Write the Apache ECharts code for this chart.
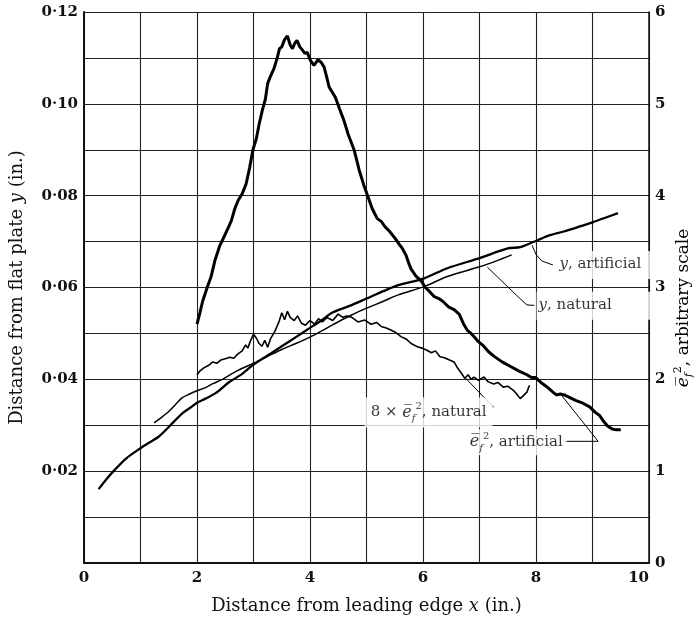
<!DOCTYPE html>
<html>
<head>
<meta charset="utf-8">
<script src="https://cdn.jsdelivr.net/npm/echarts@6/dist/echarts.min.js"></script>
<style>html,body{margin:0;padding:0;background:#fff}#c{width:700px;height:623px}</style>
</head>
<body>
<div id="c"></div>
<script>
// ---- data (x in inches; y in inches on left axis; e_f^2 on right arbitrary scale) ----
const xTickLabels = ['0','','2','','4','','6','','8','','10'];
const yLeftTickLabels = ['','','0·02','','0·04','','0·06','','0·08','','0·10','','0·12'];
const yRightTickLabels = ['0','','1','','2','','3','','4','','5','','6'];

const efArtificial = [
 [2.0,2.6],[2.05,2.72],[2.1,2.85],[2.18,3.0],[2.25,3.12],[2.32,3.3],[2.4,3.45],[2.5,3.58],[2.56,3.66],[2.61,3.73],
 [2.67,3.86],[2.73,3.95],[2.8,4.02],[2.87,4.13],[2.93,4.3],[2.99,4.5],[3.05,4.62],[3.1,4.78],[3.16,4.94],[3.21,5.05],
 [3.25,5.22],[3.3,5.3],[3.36,5.38],[3.42,5.5],[3.46,5.6],[3.5,5.62],[3.55,5.7],[3.6,5.74],[3.65,5.64],[3.69,5.6],
 [3.73,5.66],[3.77,5.69],[3.82,5.62],[3.86,5.59],[3.91,5.55],[3.95,5.56],[4.01,5.47],[4.07,5.42],[4.14,5.48],[4.2,5.45],
 [4.25,5.4],[4.3,5.28],[4.34,5.18],[4.4,5.12],[4.45,5.07],[4.52,4.95],[4.6,4.82],[4.68,4.66],[4.78,4.5],[4.83,4.38],
 [4.87,4.28],[4.95,4.12],[5.02,4.0],[5.1,3.86],[5.19,3.75],[5.26,3.72],[5.33,3.66],[5.41,3.61],[5.5,3.54],[5.58,3.47],
 [5.64,3.42],[5.7,3.35],[5.75,3.26],[5.79,3.2],[5.88,3.12],[5.97,3.07],[6.04,3.0],[6.11,2.96],[6.2,2.9],[6.28,2.88],
 [6.35,2.85],[6.45,2.79],[6.55,2.76],[6.64,2.71],[6.72,2.6],[6.79,2.53],[6.85,2.5],[6.91,2.46],[6.98,2.41],[7.06,2.37],
 [7.16,2.3],[7.26,2.25],[7.4,2.19],[7.55,2.14],[7.7,2.09],[7.84,2.05],[7.92,2.02],[7.99,2.02],[8.1,1.96],[8.19,1.92],
 [8.3,1.86],[8.36,1.83],[8.43,1.84],[8.5,1.83],[8.6,1.8],[8.7,1.77],[8.83,1.74],[8.95,1.7],[9.05,1.64],[9.12,1.61],
 [9.2,1.54],[9.27,1.49],[9.35,1.46],[9.42,1.45],[9.5,1.45]
];

const efNatural8x = [
 [2.0,2.05],[2.05,2.09],[2.12,2.125],[2.2,2.15],[2.28,2.19],[2.35,2.175],[2.42,2.21],[2.5,2.225],[2.58,2.24],[2.65,2.23],
 [2.72,2.275],[2.8,2.31],[2.86,2.375],[2.9,2.34],[2.95,2.425],[3.0,2.49],[3.05,2.45],[3.1,2.39],[3.15,2.36],[3.2,2.425],
 [3.25,2.35],[3.3,2.44],[3.38,2.525],[3.45,2.625],[3.5,2.725],[3.55,2.65],[3.6,2.74],[3.65,2.675],[3.72,2.64],[3.78,2.69],
 [3.85,2.61],[3.92,2.59],[4.0,2.64],[4.08,2.6],[4.15,2.66],[4.22,2.625],[4.3,2.675],[4.4,2.64],[4.5,2.71],[4.58,2.675],
 [4.65,2.69],[4.74,2.675],[4.85,2.625],[4.97,2.645],[5.08,2.6],[5.18,2.62],[5.26,2.575],[5.35,2.56],[5.44,2.535],[5.52,2.51],
 [5.61,2.465],[5.7,2.44],[5.79,2.39],[5.9,2.355],[5.98,2.34],[6.06,2.32],[6.15,2.29],[6.22,2.31],[6.3,2.245],[6.38,2.235],
 [6.47,2.21],[6.55,2.19],[6.6,2.135],[6.67,2.075],[6.74,2.01],[6.8,2.05],[6.85,2.0],[6.9,2.025],[6.98,1.99],[7.08,2.025],
 [7.15,1.975],[7.25,1.95],[7.33,1.965],[7.42,1.915],[7.5,1.925],[7.6,1.88],[7.66,1.84],[7.72,1.79],[7.78,1.825],[7.84,1.86],
 [7.87,1.915],[7.89,1.935]
];

const yArtificial = [
 [0.26,0.0161],[0.4,0.0183],[0.56,0.0205],[0.75,0.0228],[1.0,0.025],[1.15,0.0262],[1.32,0.0275],[1.45,0.029],[1.56,0.0304],
 [1.74,0.0326],[1.88,0.0338],[2.0,0.0349],[2.15,0.0358],[2.33,0.037],[2.56,0.0393],[2.8,0.0412],[3.0,0.0432],[3.25,0.0452],
 [3.5,0.0472],[3.75,0.0492],[4.0,0.0512],[4.2,0.0528],[4.39,0.0545],[4.7,0.056],[5.0,0.0576],[5.3,0.0592],[5.56,0.0605],
 [6.02,0.062],[6.43,0.0642],[7.0,0.0664],[7.5,0.0685],[7.72,0.0688],[7.95,0.0699],[8.2,0.0712],[8.49,0.0722],[8.75,0.0732],
 [9.0,0.0742],[9.25,0.0753],[9.45,0.0762]
];

const yNatural = [
 [1.24,0.0305],[1.35,0.0315],[1.5,0.033],[1.62,0.0345],[1.74,0.036],[1.87,0.0368],[2.0,0.0375],[2.15,0.0382],[2.27,0.039],
 [2.45,0.040],[2.7,0.0418],[3.0,0.0435],[3.25,0.045],[3.5,0.0465],[3.75,0.0478],[4.0,0.0492],[4.2,0.0505],[4.39,0.0518],
 [4.7,0.0538],[5.0,0.0555],[5.3,0.057],[5.56,0.0584],[6.02,0.0602],[6.43,0.0624],[7.0,0.0645],[7.3,0.0658],[7.57,0.0671]
];

// annotation anchors (left-axis units) and leader polylines
const labelYArt = [[8.37,0.0649]];
const labelYNat = [[8.0,0.0560]];
const labelEfNat = [[6.1,0.0328]];
const labelEfArt = [[7.65,0.0263]];
const leaderYArt = [[7.93,0.0692],[8.0,0.0672],[8.1,0.0658],[8.3,0.0649]];
const leaderYNat = [[7.14,0.0644],[7.75,0.0572],[7.84,0.0562],[7.97,0.0561]];
const leaderEfNat = [[6.75,0.0403],[7.25,0.0339]];
const leaderEfArt = [[8.42,0.037],[9.1,0.0265],[8.5,0.0265]];

const serif = 'DejaVu Serif';
const rich = {
  n: {fontFamily: serif, fontSize: 15, color: '#000'},
  i: {fontFamily: serif, fontSize: 15, fontStyle: 'italic', color: '#000'},
  e: {fontFamily: serif, fontSize: 16, fontStyle: 'italic', color: '#000'},
  sb: {fontFamily: serif, fontSize: 10, fontStyle: 'italic', color: '#000', verticalAlign: 'bottom'},
  sp: {fontFamily: serif, fontSize: 10, color: '#000', verticalAlign: 'top'}
};

function labelSeries(data, text, pos, pad) {
  return {
    type: 'scatter', yAxisIndex: 0, data: data, symbol: 'circle', symbolSize: 1, silent: true, z: 10,
    itemStyle: {color: 'rgba(0,0,0,0)'},
    label: {show: true, position: pos, formatter: text, rich: rich, lineHeight: 22, color: '#000',
      backgroundColor: '#fff', padding: pad, distance: 0}
  };
}
function leader(data) {
  return {type: 'line', yAxisIndex: 0, data: data, symbol: 'none', silent: true, z: 9,
    lineStyle: {color: '#000', width: 1}};
}

const chart = echarts.init(document.getElementById('c'), null, {renderer: 'canvas'});
chart.setOption({
  animation: false,
  backgroundColor: '#fff',
  grid: {left: 80, right: 51, top: 12, bottom: 60},
  xAxis: {
    type: 'value', min: 0, max: 10, interval: 1,
    name: 'Distance from leading edge {i|x} (in.)', nameLocation: 'middle', nameGap: 34,
    nameTextStyle: {fontFamily: serif, fontSize: 18, color: '#111',
      rich: {i: {fontFamily: serif, fontSize: 18, fontStyle: 'italic', color: '#111'}}},
    axisLine: {lineStyle: {color: '#111', width: 2}},
    axisTick: {show: false},
    splitLine: {show: true, lineStyle: {color: '#222', width: 1.1}},
    axisLabel: {fontFamily: serif, fontSize: 15, fontWeight: 'bold', color: '#111', margin: 8,
      formatter: (v, i) => xTickLabels[i] || '', alignMaxLabel: 'right'}
  },
  yAxis: [{
    type: 'value', min: 0, max: 0.12, interval: 0.01, position: 'left',
    name: 'Distance from flat plate {i|y} (in.)', nameLocation: 'middle', nameGap: 58,
    nameTextStyle: {fontFamily: serif, fontSize: 18, color: '#111',
      rich: {i: {fontFamily: serif, fontSize: 18, fontStyle: 'italic', color: '#111'}}},
    axisLine: {show: true, lineStyle: {color: '#111', width: 2}},
    axisTick: {show: false},
    splitLine: {show: true, lineStyle: {color: '#222', width: 1.1}},
    axisLabel: {fontFamily: serif, fontSize: 15, fontWeight: 'bold', color: '#111', margin: 6,
      formatter: (v, i) => yLeftTickLabels[i] || ''}
  }, {
    type: 'value', min: 0, max: 6, interval: 0.5, position: 'right',
    axisLine: {show: true, lineStyle: {color: '#111', width: 1.5}},
    axisTick: {show: false},
    splitLine: {show: false},
    axisLabel: {fontFamily: serif, fontSize: 15, fontWeight: 'bold', color: '#111', margin: 6,
      formatter: (v, i) => yRightTickLabels[i] || ''}
  }],
  graphic: [{
    type: 'text', x: 684, y: 308, rotation: Math.PI / 2,
    style: {
      text: '{e|e\u0305}{sb|f}{sp|2}{n|, arbitrary scale}',
      rich: {
        n: {fontFamily: serif, fontSize: 17, color: '#111'},
        e: {fontFamily: serif, fontSize: 17, fontStyle: 'italic', color: '#111'},
        sb: {fontFamily: serif, fontSize: 11, fontStyle: 'italic', color: '#111', verticalAlign: 'bottom'},
        sp: {fontFamily: serif, fontSize: 11, color: '#111', verticalAlign: 'top'}
      },
      lineHeight: 22, align: 'center', verticalAlign: 'middle'
    }
  }],
  series: [
    {type: 'line', yAxisIndex: 1, data: efArtificial, symbol: 'none', smooth: false,
      lineStyle: {color: '#000', width: 3}, z: 5},
    {type: 'line', yAxisIndex: 1, data: efNatural8x, symbol: 'none',
      lineStyle: {color: '#000', width: 1.6}, z: 5},
    {type: 'line', yAxisIndex: 0, data: yArtificial, symbol: 'none', smooth: 0.3,
      lineStyle: {color: '#000', width: 2.3}, z: 5},
    {type: 'line', yAxisIndex: 0, data: yNatural, symbol: 'none', smooth: 0.3,
      lineStyle: {color: '#000', width: 1.5}, z: 5},
    leader(leaderYArt), leader(leaderYNat), leader(leaderEfNat), leader(leaderEfArt),
    labelSeries(labelYArt, '{i|y}{n|, artificial}', 'right', [2, 12, 4, 2]),
    labelSeries(labelYNat, '{i|y}{n|, natural}', 'right', [2, 40, 4, 2]),
    labelSeries(labelEfNat, '{n|8 × }{e|e\u0305}{sb|f}{sp|2}{n|, natural}', 'inside', [4, 6, 4, 6]),
    labelSeries(labelEfArt, '{e|e\u0305}{sb|f}{sp|2}{n|, artificial}', 'inside', [2, 4, 2, 4])
  ]
});
</script>
</body>
</html>
